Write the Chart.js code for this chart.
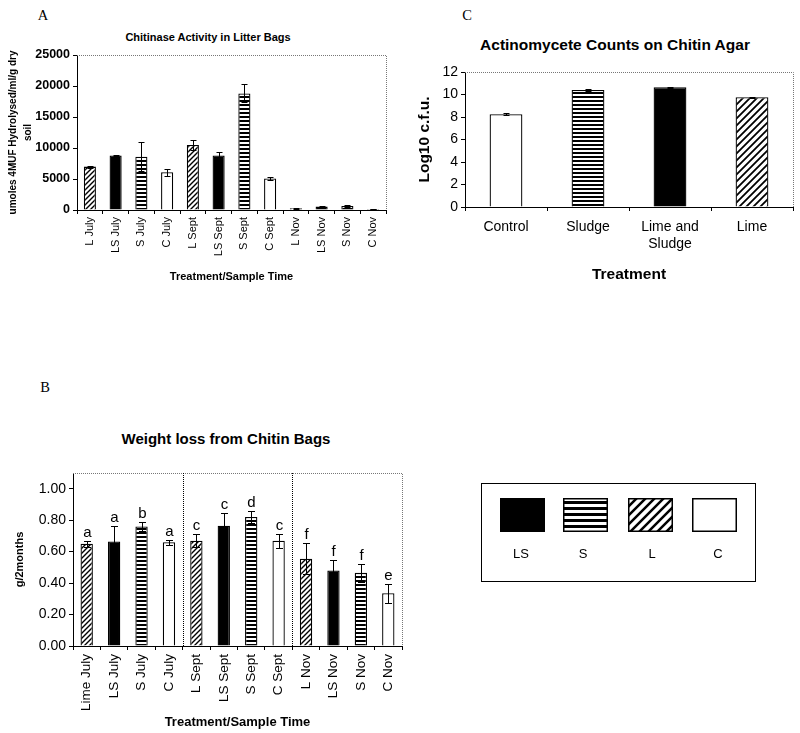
<!DOCTYPE html>
<html>
<head>
<meta charset="utf-8">
<script src="https://cdn.jsdelivr.net/npm/chart.js@4.4.0/dist/chart.umd.min.js"></script>
<style>
  body { margin: 0; background: #fff; width: 800px; height: 733px; position: relative; overflow: hidden;
         font-family: "Liberation Sans", Arial, sans-serif; color: #000; }
  .abs { position: absolute; }
  .center { transform: translate(-50%, -50%); white-space: nowrap; line-height: 1; }
  .letter { font-family: "Liberation Serif", serif; font-size: 14.5px; }
  .title { font-weight: bold; }
  #legendBox { left: 481px; top: 483px; width: 273px; height: 97px; border: 1.5px solid #000; }
  .lg { font-size: 13px; }
</style>
</head>
<body>
<div class="abs center letter" style="left:43px;top:15px">A</div>
<div class="abs center letter" style="left:467px;top:15px">C</div>
<div class="abs center letter" style="left:45px;top:387px">B</div>

<div class="abs center title" style="left:208px;top:37px;font-size:11px">Chitinase Activity in Litter Bags</div>
<div class="abs center title" style="left:226px;top:438px;font-size:15px">Weight loss from Chitin Bags</div>
<div class="abs center title" style="left:615px;top:45px;font-size:15.5px">Actinomycete Counts on Chitin Agar</div>

<canvas id="chartA" class="abs" style="left:0;top:0" width="400" height="300"></canvas>
<canvas id="chartB" class="abs" style="left:0;top:380px" width="420" height="353"></canvas>
<canvas id="chartC" class="abs" style="left:400px;top:0" width="400" height="300"></canvas>

<div id="legendBox" class="abs"></div>
<canvas id="legendSw" class="abs" style="left:481px;top:483px" width="276" height="100"></canvas>
<div class="abs center lg" style="left:521px;top:553px">LS</div>
<div class="abs center lg" style="left:583px;top:553px">S</div>
<div class="abs center lg" style="left:652px;top:553px">L</div>
<div class="abs center lg" style="left:718px;top:553px">C</div>

<script>
// ---- data ----
const aCategories = ['L July','LS July','S July','C July','L Sept','LS Sept','S Sept','C Sept','L Nov','LS Nov','S Nov','C Nov'];
const aTreatments = ['L','LS','S','C','L','LS','S','C','L','LS','S','C'];
const aValues = [7000, 8800, 8600, 6100, 10500, 8800, 18800, 5100, 300, 550, 650, 150];
const aErrors = [150, 100, 2300, 550, 750, 550, 1450, 250, 80, 80, 100, 60];
const aTicks = [0, 5000, 10000, 15000, 20000, 25000];

const bCategories = ['Lime July','LS July','S July','C July','L Sept','LS Sept','S Sept','C Sept','L Nov','LS Nov','S Nov','C Nov'];
const bTreatments = ['L','LS','S','C','L','LS','S','C','L','LS','S','C'];
const bValues = [0.65, 0.665, 0.76, 0.66, 0.67, 0.765, 0.82, 0.67, 0.555, 0.48, 0.465, 0.335];
const bErrors = [0.02, 0.10, 0.03, 0.015, 0.04, 0.08, 0.04, 0.045, 0.10, 0.07, 0.055, 0.06];
const bLetters = ['a','a','b','a','c','c','d','c','f','f','f','e'];
const bTicks = [0, 0.2, 0.4, 0.6, 0.8, 1.0];
const bSeparators = [4, 8];

const cCategories = ['Control','Sludge',['Lime and','Sludge'],'Lime'];
const cTreatments = ['C','S','LS','L'];
const cValues = [8.25, 10.4, 10.65, 9.75];
const cErrors = [0.1, 0.05, 0.03, 0.05];
const cTicks = [0, 2, 4, 6, 8, 10, 12];

Chart.defaults.font.family = '"Liberation Sans", Arial, sans-serif';
Chart.defaults.color = '#000';

// ---- fill patterns ----
function hStripes(period, lw) {
  const t = document.createElement('canvas');
  t.width = period; t.height = period;
  const g = t.getContext('2d');
  g.fillStyle = '#fff'; g.fillRect(0, 0, period, period);
  g.fillStyle = '#000'; g.fillRect(0, 0, period, lw);
  return g.createPattern(t, 'repeat');
}
function dStripes(p, lw) {
  const t = document.createElement('canvas');
  t.width = p; t.height = p;
  const g = t.getContext('2d');
  g.fillStyle = '#fff'; g.fillRect(0, 0, p, p);
  g.strokeStyle = '#000'; g.lineWidth = lw;
  g.beginPath();
  g.moveTo(-1, p + 1); g.lineTo(p + 1, -1);
  g.moveTo(-1, 1); g.lineTo(1, -1);
  g.moveTo(p - 1, p + 1); g.lineTo(p + 1, p - 1);
  g.stroke();
  return g.createPattern(t, 'repeat');
}
const smallFills = { L: dStripes(5, 1.4), LS: '#000', S: hStripes(4, 2), C: '#fff' };
const bigFills = { L: dStripes(7, 1.8), LS: '#000', S: hStripes(4, 2), C: '#fff' };

// ---- plugins ----
const frame = {
  id: 'frame',
  beforeDatasetsDraw(chart, args, opts) {
    const { ctx, chartArea: a, scales: { x } } = chart;
    ctx.save();
    ctx.lineWidth = 1;
    ctx.setLineDash([1, 1]);
    ctx.strokeStyle = '#777';
    ctx.beginPath();
    ctx.moveTo(a.left, a.top + 0.5);
    ctx.lineTo(a.right + 0.5, a.top + 0.5);
    ctx.lineTo(a.right + 0.5, a.bottom);
    ctx.stroke();
    ctx.strokeStyle = '#000';
    (opts.separators || []).forEach(i => {
      const px = Math.round((x.getPixelForValue(i - 1) + x.getPixelForValue(i)) / 2) + 0.5;
      ctx.beginPath(); ctx.moveTo(px, a.top); ctx.lineTo(px, a.bottom); ctx.stroke();
    });
    ctx.restore();
  }
};

const errorBars = {
  id: 'errorBars',
  afterDatasetsDraw(chart, args, opts) {
    const { ctx, scales: { y } } = chart;
    const meta = chart.getDatasetMeta(0);
    const vals = chart.data.datasets[0].data;
    ctx.save();
    ctx.strokeStyle = '#000';
    ctx.lineWidth = 1;
    meta.data.forEach((bar, i) => {
      const e = opts.errors[i];
      const x = Math.round(bar.x) + 0.5;
      const yt = Math.round(y.getPixelForValue(vals[i] + e)) + 0.5;
      const yb = Math.round(y.getPixelForValue(vals[i] - e)) + 0.5;
      const c = opts.cap;
      ctx.beginPath();
      ctx.moveTo(x, yt); ctx.lineTo(x, yb);
      ctx.moveTo(x - c, yt); ctx.lineTo(x + c, yt);
      ctx.moveTo(x - c, yb); ctx.lineTo(x + c, yb);
      ctx.stroke();
      if (opts.letters) {
        ctx.fillStyle = '#000';
        ctx.font = '15px "Liberation Sans", Arial, sans-serif';
        ctx.textAlign = 'center';
        ctx.textBaseline = 'alphabetic';
        ctx.fillText(opts.letters[i], x, yt - 5);
      }
    });
    ctx.restore();
  }
};

function keepTicks(list) {
  return s => { s.ticks = list.map(v => ({ value: v })); };
}

function barChart(id, cfg) {
  return new Chart(document.getElementById(id), {
    type: 'bar',
    data: {
      labels: cfg.labels,
      datasets: [{
        data: cfg.values,
        backgroundColor: cfg.treatments.map(t => cfg.fills[t]),
        borderColor: '#000',
        borderWidth: 1.3,
        barPercentage: cfg.barPct,
        categoryPercentage: 1
      }]
    },
    options: {
      responsive: false,
      animation: false,
      layout: { padding: cfg.padding },
      plugins: {
        legend: { display: false },
        tooltip: { enabled: false },
        frame: { separators: cfg.separators },
        errorBars: { errors: cfg.errors, cap: cfg.cap, letters: cfg.letters }
      },
      scales: {
        x: {
          offset: true,
          grid: { offset: true, drawOnChartArea: false, tickLength: 4, color: '#000' },
          border: { color: '#000', width: 1 },
          ticks: { autoSkip: false, minRotation: cfg.rot, maxRotation: cfg.rot,
                   font: { size: cfg.xFont }, padding: cfg.xPad, color: '#000' },
          title: { display: true, text: cfg.xTitle, font: { size: cfg.xTitleSize, weight: 'bold' },
                   padding: { top: 0, bottom: cfg.xTitlePad } },
          afterFit: s => { s.height = cfg.xHeight; }
        },
        y: {
          min: 0, max: cfg.max,
          afterBuildTicks: keepTicks(cfg.ticks),
          grid: { drawOnChartArea: false, tickLength: 4, color: '#000' },
          border: { color: '#000', width: 1 },
          ticks: { font: { size: cfg.yFont, weight: cfg.yWeight }, padding: 3, color: '#000',
                   callback: cfg.fmt },
          title: { display: true, text: cfg.yTitle,
                   font: { size: cfg.yTitleSize, weight: 'bold', lineHeight: cfg.yTitleLh },
                   padding: { top: cfg.yTitlePad, bottom: 0 } },
          afterFit: s => { s.width = cfg.yWidth; }
        }
      }
    },
    plugins: [frame, errorBars]
  });
}

barChart('chartA', {
  labels: aCategories, values: aValues, errors: aErrors, treatments: aTreatments, fills: smallFills,
  barPct: 0.47, cap: 3, padding: { top: 55, right: 14, bottom: 0, left: 0 },
  rot: 90, xFont: 11, xPad: 3, xTitle: 'Treatment/Sample Time', xTitleSize: 11, xTitlePad: 16, xHeight: 90,
  max: 25000, ticks: aTicks, yFont: 12.5, yWeight: 'bold', fmt: v => String(v),
  yTitle: ['umoles 4MUF Hydrolysed/ml/g dry', 'soil'], yTitleSize: 10, yTitleLh: 1.5, yTitlePad: 5.5, yWidth: 77
});

barChart('chartB', {
  labels: bCategories, values: bValues, errors: bErrors, treatments: bTreatments, fills: smallFills,
  letters: bLetters, separators: bSeparators,
  barPct: 0.45, cap: 3.5, padding: { top: 93, right: 18, bottom: 0, left: 0 },
  rot: 90, xFont: 13.5, xPad: 4, xTitle: 'Treatment/Sample Time', xTitleSize: 13, xTitlePad: 3, xHeight: 87,
  max: 1.1, ticks: bTicks, yFont: 14, yWeight: 'normal', fmt: v => Number(v).toFixed(2),
  yTitle: 'g/2months', yTitleSize: 11, yTitleLh: 1.2, yTitlePad: 13.4, yWidth: 73
});

barChart('chartC', {
  labels: cCategories, values: cValues, errors: cErrors, treatments: cTreatments, fills: bigFills,
  barPct: 0.4, cap: 3, padding: { top: 72, right: 7, bottom: 0, left: 0 },
  rot: 0, xFont: 14, xPad: 8, xTitle: 'Treatment', xTitleSize: 15.5, xTitlePad: 15.7, xHeight: 93,
  max: 12, ticks: cTicks, yFont: 14, yWeight: 'normal', fmt: v => String(v),
  yTitle: 'Log10 c.f.u.', yTitleSize: 15.5, yTitleLh: 1.2, yTitlePad: 15.7, yWidth: 65
});

// ---- legend swatches (box at 481,483) ----
(function () {
  const g = document.getElementById('legendSw').getContext('2d');
  const swFills = { LS: '#000', S: hStripes(6, 3), L: dStripes(9, 2.5), C: '#fff' };
  const sw = [['LS', 19], ['S', 82], ['L', 147], ['C', 211]];
  sw.forEach(([k, x]) => {
    g.fillStyle = swFills[k];
    g.fillRect(x, 15, 45, 34);
    g.strokeStyle = '#000'; g.lineWidth = 1.5;
    g.strokeRect(x + 0.75, 15.75, 43.5, 32.5);
  });
})();
</script>
</body>
</html>
